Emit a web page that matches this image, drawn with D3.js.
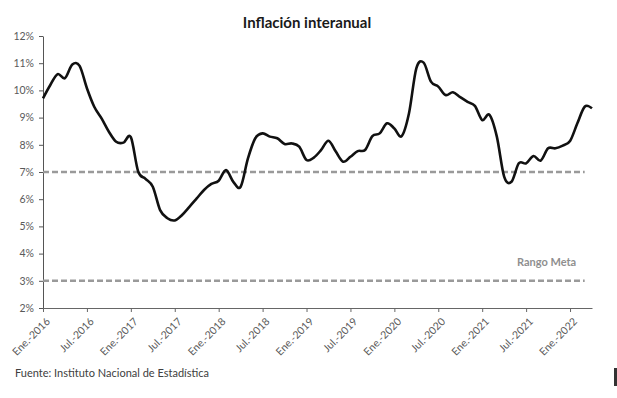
<!DOCTYPE html>
<html>
<head>
<meta charset="utf-8">
<script src="https://cdnjs.cloudflare.com/ajax/libs/d3/7.8.5/d3.min.js"></script>
<style>
  body { margin: 0; background: #fff; }
  text { font-family: Lato, "Open Sans", sans-serif; }
</style>
</head>
<body>
<div id="chart"></div>
<script>
// meses: ene-2016 .. abr-2022
var months = d3.timeMonth.range(new Date(2016, 0, 1), new Date(2022, 4, 1));

var inflacion = [
  9.71, 10.2, 10.6, 10.45, 10.95, 10.9, 10.08, 9.4, 8.97, 8.48, 8.11, 8.08,   // 2016
  8.28, 7.02, 6.75, 6.46, 5.6, 5.3, 5.22, 5.42, 5.72, 6.03, 6.34, 6.56,      // 2017
  6.68, 7.07, 6.64, 6.46, 7.5, 8.24, 8.42, 8.3, 8.24, 8.03, 8.05, 7.93,      // 2018
  7.44, 7.53, 7.81, 8.15, 7.75, 7.38, 7.56, 7.77, 7.81, 8.32, 8.42, 8.79,    // 2019
  8.6, 8.32, 9.16, 10.81, 11.02, 10.32, 10.14, 9.83, 9.93, 9.75, 9.58, 9.43, // 2020
  8.91, 9.1, 8.3, 6.83, 6.64, 7.32, 7.32, 7.59, 7.42, 7.87, 7.87, 7.97,      // 2021
  8.14, 8.79, 9.4, 9.34                                                       // 2022
];

var tickLabels = ["Ene.-2016", "Jul.-2016", "Ene.-2017", "Jul.-2017", "Ene.-2018",
  "Jul.-2018", "Ene.-2019", "Jul.-2019", "Ene.-2020", "Jul.-2020", "Ene.-2021",
  "Jul.-2021", "Ene.-2022"];

var rangoMeta = [3, 7];
var rangoFin = 74; // las líneas de meta terminan en mar-2022
var yTicks = [2, 3, 4, 5, 6, 7, 8, 9, 10, 11, 12];

var width = 617, height = 398;

var x = d3.scaleLinear()
  .domain([0, months.length - 1])
  .range([43, 592]);

var y = d3.scaleLinear()
  .domain([2, 12])
  .range([308, 36]);

var svg = d3.select("#chart").append("svg")
  .attr("width", width)
  .attr("height", height);

svg.append("text")
  .attr("x", 307)
  .attr("y", 28)
  .attr("text-anchor", "middle")
  .style("font-size", "15px")
  .style("font-weight", "bold")
  .style("fill", "#1a1a1a")
  .text("Inflación interanual");

// eje y
var yAxis = svg.append("g")
  .attr("transform", "translate(" + x(0) + ",0)")
  .call(d3.axisLeft(y).tickValues(yTicks).tickSize(4).tickSizeOuter(0)
    .tickFormat(function(d) { return d + "%"; }));
yAxis.selectAll("line, path").style("stroke", "#555");
yAxis.selectAll("text")
  .attr("x", -9)
  .style("font-size", "10.5px")
  .style("fill", "#595959");

// eje x
var xAxis = svg.append("g")
  .attr("transform", "translate(0," + y(2) + ")")
  .call(d3.axisBottom(x)
    .tickValues(d3.range(0, months.length, 6))
    .tickSize(4).tickSizeOuter(0)
    .tickFormat(function(d) { return tickLabels[d / 6]; }));
xAxis.selectAll("line, path").style("stroke", "#666");
xAxis.selectAll("text")
  .attr("text-anchor", "end")
  .attr("transform", "translate(2,9) rotate(-45)")
  .attr("x", 0)
  .attr("y", 0)
  .attr("dy", "0.7em")
  .style("font-size", "10.5px")
  .style("fill", "#595959");

// rango meta
svg.selectAll(".meta")
  .data(rangoMeta)
  .enter().append("line")
  .attr("class", "meta")
  .attr("x1", x(0))
  .attr("x2", x(rangoFin))
  .attr("y1", function(d) { return y(d); })
  .attr("y2", function(d) { return y(d); })
  .style("stroke", "#9a9a9a")
  .style("stroke-width", 2.5)
  .style("stroke-dasharray", "6,3");

svg.append("text")
  .attr("x", 517)
  .attr("y", 266)
  .style("font-size", "11px")
  .style("font-weight", "bold")
  .style("fill", "#8f8f8f")
  .text("Rango Meta");

var line = d3.line()
  .x(function(d, i) { return x(i); })
  .y(function(d) { return y(d); })
  .curve(d3.curveCatmullRom.alpha(0));

svg.append("path")
  .datum(inflacion)
  .attr("d", line)
  .style("fill", "none")
  .style("stroke", "#111")
  .style("stroke-width", 2.6);

svg.append("text")
  .attr("x", 15)
  .attr("y", 377)
  .style("font-size", "11px")
  .style("fill", "#404040")
  .text("Fuente: Instituto Nacional de Estadística");

// borde recortado a la derecha
svg.append("rect")
  .attr("x", 614)
  .attr("y", 368)
  .attr("width", 3)
  .attr("height", 18)
  .style("fill", "#333");
</script>
</body>
</html>
